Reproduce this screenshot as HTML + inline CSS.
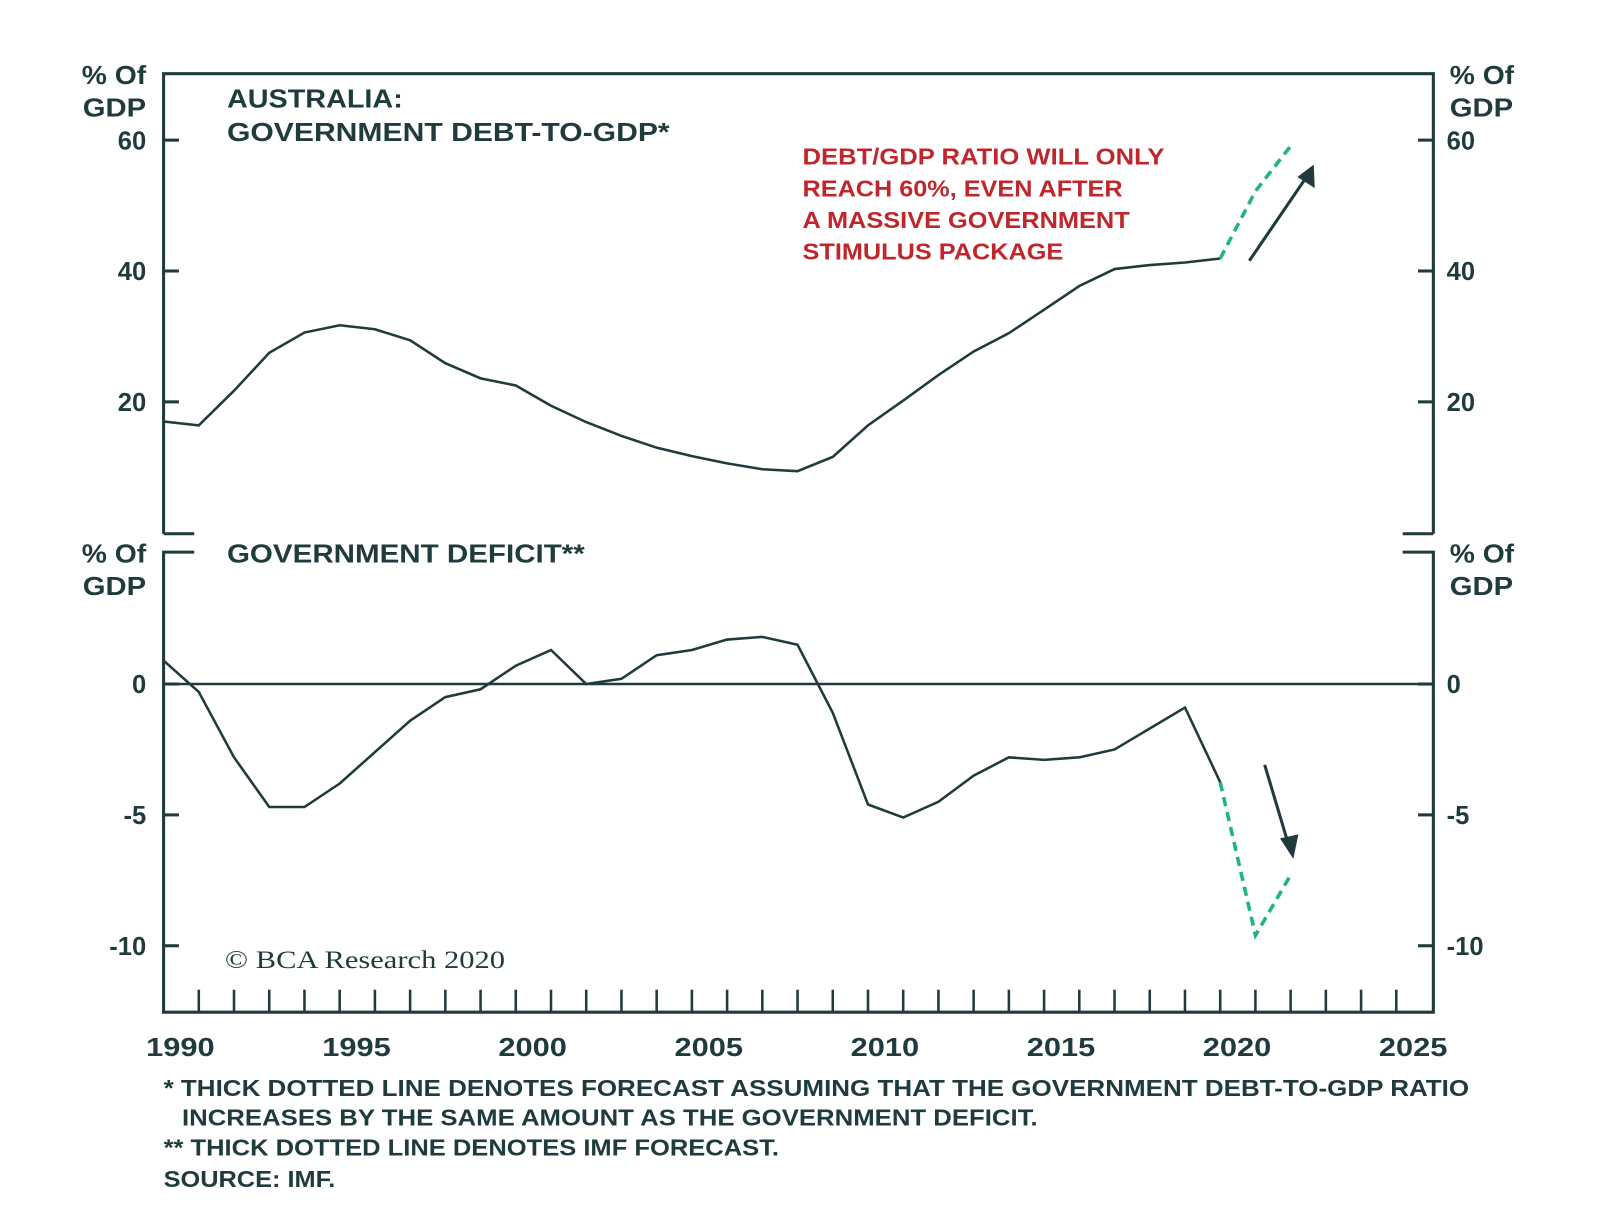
<!DOCTYPE html>
<html><head><meta charset="utf-8"><style>
html,body{margin:0;padding:0;background:#fff;}
svg{display:block;}
text{font-family:"Liberation Sans",sans-serif;font-weight:bold;fill:#1f3b3d;}
</style></head><body>
<svg id="chart" width="1600" height="1228" viewBox="0 0 1565 1201" xmlns="http://www.w3.org/2000/svg">
<g id="frame" stroke="#1f3b3d" stroke-width="3" fill="none">
<path d="M160 522 L160 72 L1402 72 L1402 522"/>
<path d="M160 522 L190 522 M1402 522 L1372 522"/>
<path d="M190 540 L160 540 L160 990 L1402 990 L1402 540 L1372 540"/>
</g>
<g id="labels">
<text x="80" y="82" font-size="25" textLength="63" lengthAdjust="spacingAndGlyphs">% Of</text>
<text x="81" y="114" font-size="25" textLength="62" lengthAdjust="spacingAndGlyphs">GDP</text>
<text x="1418" y="82" font-size="25" textLength="63" lengthAdjust="spacingAndGlyphs">% Of</text>
<text x="1418" y="114" font-size="25" textLength="62" lengthAdjust="spacingAndGlyphs">GDP</text>
<text x="80" y="550" font-size="25" textLength="63" lengthAdjust="spacingAndGlyphs">% Of</text>
<text x="81" y="582" font-size="25" textLength="62" lengthAdjust="spacingAndGlyphs">GDP</text>
<text x="1418" y="550" font-size="25" textLength="63" lengthAdjust="spacingAndGlyphs">% Of</text>
<text x="1418" y="582" font-size="25" textLength="62" lengthAdjust="spacingAndGlyphs">GDP</text>
<text x="222" y="105" font-size="25" textLength="172" lengthAdjust="spacingAndGlyphs">AUSTRALIA:</text>
<text x="222" y="138" font-size="25" textLength="433" lengthAdjust="spacingAndGlyphs">GOVERNMENT DEBT-TO-GDP*</text>
<text x="222" y="550" font-size="25" textLength="350" lengthAdjust="spacingAndGlyphs">GOVERNMENT DEFICIT**</text>
<g>
<text x="785" y="161" font-size="23" textLength="354" lengthAdjust="spacingAndGlyphs" style="fill:#c0272d">DEBT/GDP RATIO WILL ONLY</text>
<text x="785" y="192" font-size="23" textLength="313" lengthAdjust="spacingAndGlyphs" style="fill:#c0272d">REACH 60%, EVEN AFTER</text>
<text x="785" y="223" font-size="23" textLength="320" lengthAdjust="spacingAndGlyphs" style="fill:#c0272d">A MASSIVE GOVERNMENT</text>
<text x="785" y="254" font-size="23" textLength="255" lengthAdjust="spacingAndGlyphs" style="fill:#c0272d">STIMULUS PACKAGE</text>
</g>
<text x="220" y="947" font-size="25" textLength="274" lengthAdjust="spacingAndGlyphs" style="font-family:'Liberation Serif',serif;font-weight:normal">© BCA Research 2020</text>
<g font-size="22">
<text x="160" y="1072" font-size="23" textLength="1277" lengthAdjust="spacingAndGlyphs">*  THICK DOTTED LINE DENOTES FORECAST ASSUMING THAT THE GOVERNMENT DEBT-TO-GDP RATIO</text>
<text x="178" y="1101" font-size="23" textLength="837" lengthAdjust="spacingAndGlyphs">INCREASES BY THE SAME AMOUNT AS THE GOVERNMENT DEFICIT.</text>
<text x="160" y="1130" font-size="23" textLength="602" lengthAdjust="spacingAndGlyphs">** THICK DOTTED LINE DENOTES IMF FORECAST.</text>
<text x="160" y="1161" font-size="23" textLength="168" lengthAdjust="spacingAndGlyphs">SOURCE: IMF.</text>
</g>
</g>
<g id="axes"></g>
<g id="series"></g>
<line x1="1222" y1="255" x2="1280" y2="170" stroke="#1f3b3d" stroke-width="3"/>
<path d="M1285 161 L1286 184 L1269 173 Z" fill="#1f3b3d"/>
<line x1="1237" y1="748" x2="1260" y2="825" stroke="#1f3b3d" stroke-width="3"/>
<path d="M1265 840 L1252 820 L1270 816 Z" fill="#1f3b3d"/>
</svg>
<script>
const years = [1990,1991,1992,1993,1994,1995,1996,1997,1998,1999,2000,2001,2002,2003,2004,2005,2006,2007,2008,2009,2010,2011,2012,2013,2014,2015,2016,2017,2018,2019,2020];
const debt = [17.0,16.4,21.7,27.5,30.6,31.7,31.1,29.4,25.9,23.6,22.5,19.4,16.9,14.8,13.0,11.7,10.6,9.7,9.4,11.6,16.4,20.2,24.1,27.7,30.5,34.1,37.7,40.3,40.9,41.3,41.9];
const deficit = [0.9,-0.3,-2.8,-4.7,-4.7,-3.8,-2.6,-1.4,-0.5,-0.2,0.7,1.3,0.0,0.2,1.1,1.3,1.7,1.8,1.5,-1.1,-4.6,-5.1,-4.5,-3.5,-2.8,-2.9,-2.8,-2.5,-1.7,-0.9,-3.75];
const forecastYears = [2020,2021,2022];
const debtForecast = [41.9,52.2,59.1];
const deficitForecast = [-3.75,-9.6,-7.3];
const debtTicks = [20,40,60];
const deficitTicks = [-10,-5,0];
const xTickLabels = [1990,1995,2000,2005,2010,2015,2020,2025];

const NS = "http://www.w3.org/2000/svg";
const xS = y => 160 + (y - 1990) * 34.45;
const yTop = v => 521 - v * 6.4;
const yBot = v => 669 - v * 25.6;
const axes = document.getElementById('axes');
const series = document.getElementById('series');
function mk(tag, attrs, parent) { const e = document.createElementNS(NS, tag); for (const k in attrs) e.setAttribute(k, attrs[k]); parent.appendChild(e); return e; }

function yTicks(ticks, f, nm) {
  ticks.forEach(v => {
    const y = f(v);
    const l1 = mk('line', {x1:160,x2:175,y1:y,y2:y,stroke:'#1f3b3d','stroke-width':3}, axes);
    
    
    const l2 = mk('line', {x1:1387,x2:1402,y1:y,y2:y,stroke:'#1f3b3d','stroke-width':3}, axes);
    
    
    const t1 = mk('text', {x:143,y:y+9,'font-size':25,'text-anchor':'end'}, axes); t1.textContent = v;
    
    
    const t2 = mk('text', {x:1415,y:y+9,'font-size':25}, axes); t2.textContent = v;
    
    
  });
}
yTicks(debtTicks, yTop, 'debt');
yTicks(deficitTicks, yBot, 'deficit');
const zl = mk('line', {x1:160,x2:1402,y1:yBot(0),y2:yBot(0),stroke:'#1f3b3d','stroke-width':2.5}, axes);


for (let yr = 1991; yr <= 2025; yr++) {
  const x = xS(yr);
  const t = mk('line', {x1:x,x2:x,y1:968,y2:990,stroke:'#1f3b3d','stroke-width':2.5}, axes);
  
  
}
xTickLabels.forEach(yr => {
  const t = mk('text', {x:xS(yr)-17,y:1033,'font-size':25,textLength:67,lengthAdjust:'spacingAndGlyphs'}, axes); t.textContent = yr;
  
  
});
function pts(xs, vs, f) { return xs.map((y,i) => xS(y).toFixed(1) + ',' + f(vs[i]).toFixed(1)).join(' '); }
const dl = mk('polyline', {points:pts(years,debt,yTop),fill:'none',stroke:'#1f3b3d','stroke-width':2.5}, series);


const df = mk('polyline', {points:pts(forecastYears,debtForecast,yTop),fill:'none',stroke:'#1fb57d','stroke-width':3.5,'stroke-dasharray':'9 6'}, series);


const fl = mk('polyline', {points:pts(years,deficit,yBot),fill:'none',stroke:'#1f3b3d','stroke-width':2.5}, series);


const ff = mk('polyline', {points:pts(forecastYears,deficitForecast,yBot),fill:'none',stroke:'#1fb57d','stroke-width':3.5,'stroke-dasharray':'9 6'}, series);


</script>
</body></html>
